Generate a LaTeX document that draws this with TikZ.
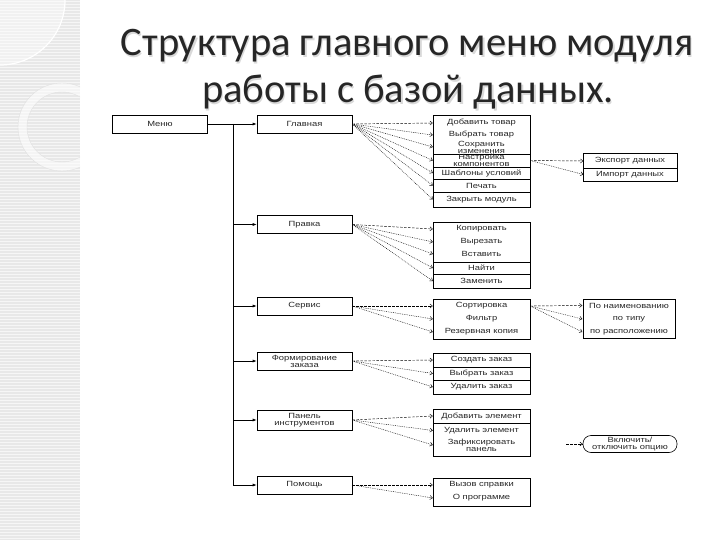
\documentclass[tikz,border=0pt]{standalone}
\usepackage{fontspec}
\setmainfont{Liberation Sans}
\newfontfamily\titlefont{Carlito}
\newfontfamily\diag[FakeStretch=1.25]{Liberation Sans}
\usetikzlibrary{arrows.meta}
\definecolor{strip}{RGB}{232,232,232}
\definecolor{ttl}{RGB}{38,38,38}
\begin{document}
\begin{tikzpicture}[x=1pt,y=-1pt,
  every node/.style={inner sep=0pt, text=black!85},
  dfont/.style={font=\diag\fontsize{7.5}{7}\selectfont},
  sub/.style={draw=black, line width=0.6pt, minimum width=95pt, minimum height=18pt, align=center, dfont},
  item/.style={minimum width=97pt, align=center, dfont},
  sitem/.style={minimum width=93pt, align=center, dfont},
  main/.style={line width=0.6pt, -{Latex[length=4pt,width=3pt]}},
  dsh/.style={line width=0.45pt, dash pattern=on 2.5pt off 1.5pt, -{Straight Barb[length=2.5pt,width=4pt]}},
  dot/.style={line width=0.45pt, dash pattern=on 0.8pt off 1pt, -{Straight Barb[length=2.5pt,width=4pt]}},
  lst/.style={line width=0.6pt},
  ttlstyle/.style={font=\titlefont\fontsize{40.5}{40}\selectfont, anchor=base}
]
\useasboundingbox (0,0) rectangle (720,540);
% decorative left strip
\fill[strip] (0,0) rectangle (80,540);
\foreach \yy in {1,4,...,540} \draw[white!60!strip, line width=0.7pt] (0,\yy) -- (80,\yy);
\begin{scope}
\clip (0,0) rectangle (80,540);
\fill[white, opacity=0.4] (0,0) -- (65,0) arc[start angle=0, end angle=90, radius=65] -- cycle;
\draw[white, line width=1.2pt] (65,0) arc[start angle=0, end angle=90, radius=65];
\fill[white, opacity=0.55, even odd rule] (62,127) circle[radius=44] (62,127) circle[radius=35];
\draw[black!12, line width=0.4pt] (62,127) circle[radius=44] (62,127) circle[radius=35];
\end{scope}
% title
\node[ttlstyle, text=black!15] at (408.2,57.2) {Структура главного меню модуля};
\node[ttlstyle, text=ttl] (t1) at (407,56) {Структура главного меню модуля};
\node[ttlstyle, text=black!15] at (409.2,104.2) {работы с базой данных.};
\node[ttlstyle, text=ttl] (t2) at (408,103) {работы с базой данных.};

% left column
\node[sub] (menu) at (160,124) {Меню};
\node[sub] (glav) at (304.5,124) {Главная};
\node[sub] (prav) at (304.5,224.5) {Правка};
\node[sub] (serv) at (304.5,306) {Сервис};
\node[sub] (form) at (304.5,361) {Формирование\\заказа};
\node[sub, minimum height=20pt] (pan) at (304.5,420) {Панель\\инструментов};
\node[sub] (help) at (304.5,485) {Помощь};

\coordinate (vtop) at (233,124);
\coordinate (vbot) at (233,485);
\draw[main] (menu.east) -- (glav.west);
\draw[lst] (vtop) -- (vbot);
\foreach \n in {prav,serv,form,pan,help} \draw[main] (vtop |- \n.west) -- (\n.west);

% Главная list
\draw[lst] (433,115) rectangle (530,207);
\foreach \yy in {154,167,179,192} \draw[lst] (433,\yy) -- (530,\yy);
\node[item] (g1) at (481.5,123) {Добавить товар};
\node[item] (g2) at (481.5,135) {Выбрать товар};
\node[item] (g3) at (481.5,147) {Сохранить\\изменения};
\node[item] (g4) at (481.5,160.5) {Настройка\\компонентов};
\node[item] (g5) at (481.5,173) {Шаблоны условий};
\node[item] (g6) at (481.5,185.5) {Печать};
\node[item] (g7) at (481.5,199.5) {Закрыть модуль};
\draw[dsh] (glav.east) -- (g1.west);
\foreach \t in {g2,g3,g4,g5,g6,g7} \draw[dot] (glav.east) -- (\t.west);

% Экспорт / Импорт
\draw[lst] (583,153) rectangle (677,181);
\draw[lst] (583,168) -- (677,168);
\node[sitem] (e1) at (630,161) {Экспорт данных};
\node[sitem] (e2) at (630,174.5) {Импорт данных};
\draw[dsh] (g4.east) -- (e1.west);
\draw[dot] (g4.east) -- (e2.west);

% Правка list
\draw[lst] (433,222) rectangle (530,288);
\foreach \yy in {262,274} \draw[lst] (433,\yy) -- (530,\yy);
\node[item] (p1) at (481.5,229) {Копировать};
\node[item] (p2) at (481.5,242) {Вырезать};
\node[item] (p3) at (481.5,254) {Вставить};
\node[item] (p4) at (481.5,268) {Найти};
\node[item] (p5) at (481.5,281) {Заменить};
\draw[dsh] (prav.east) -- (p1.west);
\foreach \t in {p2,p3,p4,p5} \draw[dot] (prav.east) -- (\t.west);

% Сервис list
\draw[lst] (433,299) rectangle (530,339);
\node[item] (s1) at (481.5,306) {Сортировка};
\node[item] (s2) at (481.5,319) {Фильтр};
\node[item] (s3) at (481.5,332) {Резервная копия};
\draw[dsh] (serv.east) -- (s1.west);
\foreach \t in {s2,s3} \draw[dot] (serv.east) -- (\t.west);

% Сортировка sublist
\draw[lst] (583,299) rectangle (675,338);
\node[sitem] (o1) at (629,305.5) {По наименованию};
\node[sitem] (o2) at (629,319) {по типу};
\node[sitem] (o3) at (629,332) {по расположению};
\draw[dsh] (s1.east) -- (o1.west);
\foreach \t in {o2,o3} \draw[dot] (s1.east) -- (\t.west);

% Формирование list
\draw[lst] (433,353) rectangle (530,394);
\foreach \yy in {367,380} \draw[lst] (433,\yy) -- (530,\yy);
\node[item] (f1) at (481.5,360) {Создать заказ};
\node[item] (f2) at (481.5,373.5) {Выбрать заказ};
\node[item] (f3) at (481.5,387) {Удалить заказ};
\draw[dsh] (form.east) -- (f1.west);
\foreach \t in {f2,f3} \draw[dot] (form.east) -- (\t.west);

% Панель list
\draw[lst] (433,409) rectangle (530,456);
\foreach \yy in {423} \draw[lst] (433,\yy) -- (530,\yy);
\node[item] (n1) at (481.5,416) {Добавить элемент};
\node[item] (n2) at (481.5,430.5) {Удалить элемент};
\node[item] (n3) at (481.5,445) {Зафиксировать\\панель};
\draw[dsh] (pan.east) -- (n1.west);
\foreach \t in {n2,n3} \draw[dot] (pan.east) -- (\t.west);

% option
\node[draw=black, line width=0.6pt, rounded corners=8pt, minimum width=94pt, minimum height=17pt, align=center, dfont] (opt) at (630,444) {Включить/\\отключить опцию};
\coordinate (optin) at (566,444);
\draw[dsh] (optin) -- (opt.west);

% Помощь list
\draw[lst] (433,478) rectangle (530,506);
\node[item] (h1) at (481.5,485) {Вызов справки};
\node[item] (h2) at (481.5,498) {О программе};
\draw[dsh] (help.east) -- (h1.west);
\draw[dot] (help.east) -- (h2.west);
\end{tikzpicture}
\end{document}
